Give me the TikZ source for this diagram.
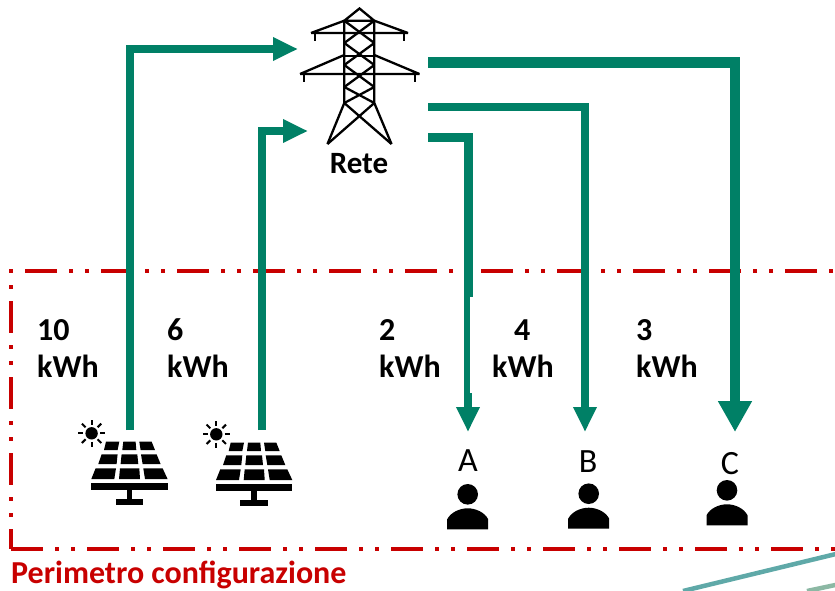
\documentclass[tikz,border=0pt]{standalone}
\usepackage{fontspec}
\setmainfont{Carlito}
\usetikzlibrary{arrows.meta}
\definecolor{flowgreen}{HTML}{008066}
\definecolor{perired}{HTML}{C80000}
\definecolor{streaka}{HTML}{5FA9A8}
\definecolor{streakb}{HTML}{8CB8A4}
\tikzset{
  flow/.style={draw=flowgreen,line width=#1,line cap=butt,line join=miter},
  smalltip/.style={-{Triangle[length=25pt,width=22pt,fill=flowgreen]}},
  bigtip/.style={-{Triangle[length=31pt,width=32pt,fill=flowgreen]}},
  perimeter/.style={draw=perired,line width=4pt,dash pattern=on 32pt off 12pt on 4pt off 12pt on 4pt off 12pt},
  boldlabel/.style={font=\fontsize{32}{37}\selectfont\bfseries,text=black,align=left,inner sep=0pt},
  userlabel/.style={font=\fontsize{34}{36}\selectfont,text=black,inner sep=0pt},
  pics/panel/.style={code={
    \fill (-23.3,-31.7)--(-10,-31.7)--(-11.7,-23.3)--(-25.3,-23.3)--cycle;
    \fill (-6,-31.7)--(6.3,-31.7)--(7,-23.3)--(-7,-23.3)--cycle;
    \fill (10,-31.7)--(22.3,-31.7)--(25.7,-23.3)--(11.3,-23.3)--cycle;
    \fill (-27.7,-19)--(-11.7,-19)--(-12.7,-9.3)--(-31,-9.3)--cycle;
    \fill (-7.7,-19)--(8,-19)--(9,-9.3)--(-8.7,-9.3)--cycle;
    \fill (11.7,-19)--(27.3,-19)--(31.3,-9.3)--(13.3,-9.3)--cycle;
    \fill (-33.7,-5)--(-13.3,-5)--(-15,5.7)--(-38,5.7)--cycle;
    \fill (-9.3,-5)--(10,-5)--(10.7,5.7)--(-10.3,5.7)--cycle;
    \fill (14,-5)--(33.3,-5)--(38.3,5.7)--(15.7,5.7)--cycle;
    \fill (-38,9.7) rectangle (38.3,16.3);
    \fill (-2.7,16.3) rectangle (3,26);
    \fill (-13.7,26) rectangle (14,31.7);
    \fill (-37.7,-40) circle (6.2);
    \foreach \a in {0,45,...,315}{\draw[line width=2pt] (-37.7,-40)++(\a:8.5)--++(\a:5.2);}
  }},
  pics/user/.style={code={
    \fill (0,-35) circle (10.3);
    \fill (-20.5,0)--(-20.5,-10) .. controls (-17,-17) and (-8,-21) .. (0,-21) .. controls (8,-21) and (17,-17) .. (20.5,-10)--(20.5,0)--cycle;
  }},
  pics/pylon/.style={code={
    \begin{scope}[line width=2.3pt,line join=miter]
    \draw (344.3,20.7)--(359.5,8.5)--(374.3,20.7)--cycle;
    \draw (344.3,20.7)--(344.3,103)--(327.5,144);
    \draw (374.3,20.7)--(374.3,103)--(391.5,144);
    \draw (344.3,103)--(391.5,144) (374.3,103)--(327.5,144);
    \draw (311,33)--(408,33) (311,33)--(344.3,20.7) (408,33)--(374.3,20.7);
    \draw (300,74)--(419.5,74) (300,74)--(344.3,55) (419.5,74)--(374.3,55);
    \draw (344.3,56)--(374.3,56);
    \foreach \x in {315,404}{\draw (\x,33)--(\x,41);}
    \foreach \x in {304,415}{\draw (\x,74)--(\x,82);}
    \foreach \p/\q in {20.7/43,43/65,65/87,87/103}{\draw (344.3,\p)--(374.3,\q) (374.3,\p)--(344.3,\q);}
    \end{scope}
  }},
}
\begin{document}
\begin{tikzpicture}[x=1pt,y=-1pt]
\useasboundingbox (0,0) rectangle (835,590);
% perimeter
\draw[perimeter] (893,271)--(11,271)--(11,549);
\draw[perimeter] (11,549)--(893,549);
\node[font=\fontsize{32}{36}\selectfont\bfseries,text=perired,anchor=west,inner sep=0pt] (perimetro) at (11,575) {Perimetro configurazione};
% streaks at the corner
\draw[line width=4.5pt,color=streaka] (683,591)--(840,553);
\draw[line width=4.5pt,color=streakb] (807,591)--(840,584);
% icons
\pic at (0,0) {pylon};
\node[boldlabel,anchor=center,font=\fontsize{31}{37}\selectfont\bfseries] (rete) at (359,164) {Rete};
\pic at (129.3,473.3) {panel};
\pic at (254,474.3) {panel};
\pic at (467.7,529.3) {user};
\pic at (588.7,528.7) {user};
\pic at (727,525.3) {user};
\node[userlabel] (a) at (468,461) {A};
\node[userlabel] (b) at (588,462) {B};
\node[userlabel] (c) at (730,464) {C};
% named ends
\coordinate (pva) at (130,430);
\coordinate (pvb) at (261.5,430);
\coordinate (retea) at (298,49);
\coordinate (reteb) at (308,131);
\coordinate (retec) at (428,137.5);
\coordinate (reted) at (428,106.5);
\coordinate (retee) at (428,62.5);
\coordinate (usera) at (468,432);
\coordinate (userb) at (585,432);
\coordinate (userc) at (735,432);
\coordinate (joga) at (468.2,297);
\coordinate (jogb) at (467,297);
\coordinate (jogc) at (467,393);
\coordinate (jogd) at (468,393);
% flows
\draw[flow=8pt,smalltip] (pva)|-(retea);
\draw[flow=8pt,smalltip] (pvb)|-(reteb);
\draw[flow=9pt] (retec)-|(joga);
\draw[flow=6pt] (jogb)--(jogc);
\draw[flow=8.5pt,smalltip] (jogd)--(usera);
\draw[flow=8pt,smalltip] (reted)-|(userb);
\draw[flow=10.5pt,bigtip] (retee)-|(userc);
% amounts
\node[boldlabel,anchor=west] (e10) at (37,346) {\strut 10\\kWh};
\node[boldlabel,anchor=west] (e6) at (167,346) {\strut 6\\kWh};
\node[boldlabel,anchor=west] (e2) at (379,346) {\strut 2\\kWh};
\node[boldlabel,anchor=west] (e4) at (492,346) {\strut\hspace*{22pt}4\\kWh};
\node[boldlabel,anchor=west] (e3) at (636,346) {\strut 3\\kWh};
\end{tikzpicture}
\end{document}
